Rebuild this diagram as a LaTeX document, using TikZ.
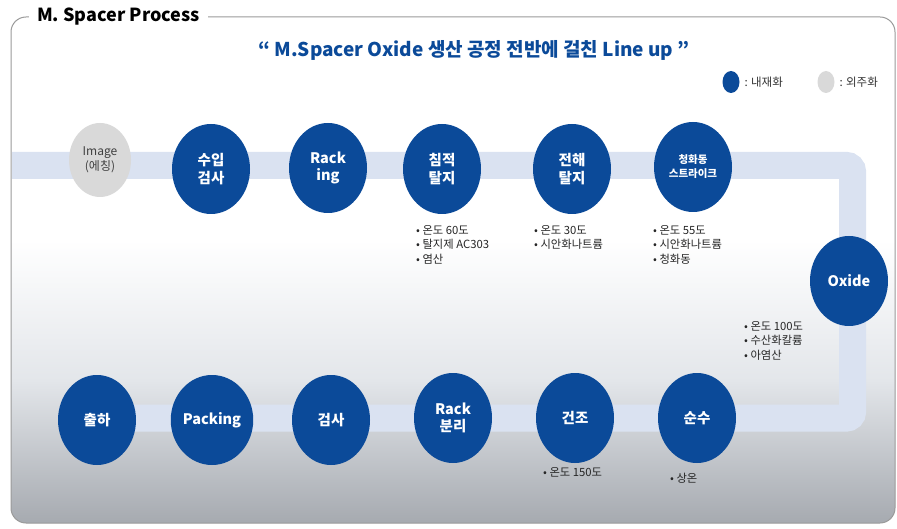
\documentclass[tikz,border=0pt]{standalone}
\usepackage{fontspec}
\setmainfont{Noto Sans CJK KR}
\usetikzlibrary{shapes}
\definecolor{procblue}{HTML}{0B4A99}
\definecolor{outgray}{HTML}{D9D9D9}
\definecolor{trackband}{HTML}{DAE2F1}
\definecolor{framegray}{HTML}{9A9A9A}
\definecolor{bgmid}{HTML}{E3E6EA}
\definecolor{bgbottom}{HTML}{A6AAB0}

\begin{document}
\begin{tikzpicture}[x=1pt, y=-1pt,
  step node/.style={ellipse, fill=procblue, text=white, minimum width=78pt, minimum height=90pt, inner sep=0pt, align=center, font=\fontsize{14.5}{17.5}\selectfont\bfseries},
  out node/.style={ellipse, fill=outgray, text=black!75, minimum width=62pt, minimum height=74pt, inner sep=0pt, align=center, font=\fontsize{12}{14.5}\selectfont},
  note/.style={anchor=north west, align=left, inner sep=0pt, font=\fontsize{11.3}{14.5}\selectfont, text=black!85},
  key text/.style={anchor=west, font=\fontsize{11.5}{13}\selectfont, text=black!80}]
\useasboundingbox (0,0) rectangle (897,529);

% background of the frame
\begin{scope}
\clip[rounded corners=15pt] (11,17) rectangle (895,523);
\shade[top color=white, bottom color=bgmid] (11,240) rectangle (895,381);
\shade[top color=bgmid, bottom color=bgbottom] (11,380) rectangle (895,523);
\end{scope}

% track
\draw[trackband, line width=27pt, rounded corners=6pt] (12,165.5) -- (852.5,165.5) -- (852.5,418) -- (97,418);

\draw[framegray, line width=1pt, rounded corners=15pt] (11,17) rectangle (895,523);
\node[anchor=west, fill=white, inner xsep=8pt, font=\fontsize{18}{20}\selectfont\bfseries] (title) at (29,17) {M. Spacer Process};
\node[font=\fontsize{19}{22}\selectfont\bfseries, text=procblue] (subtitle) at (474,50) {“ M.Spacer Oxide 생산 공정 전반에 걸친 Line up ”};

% legend
\node[ellipse, fill=procblue, minimum width=17pt, minimum height=22pt, inner sep=0pt] (inkey) at (731,82) {};
\node[key text] (inkeytxt) at (741,82) {: 내재화};
\node[ellipse, fill=outgray, minimum width=17pt, minimum height=22pt, inner sep=0pt] (outkey) at (826,82) {};
\node[key text] (outkeytxt) at (836,82) {: 외주화};

% process steps
\node[out node] (img) at (100,160) {Image\\(에칭)};
\node[step node] (insp) at (211,169) {수입\\검사};
\node[step node] (rack) at (328,168) {Rack\\ing};
\node[step node] (dip) at (442,169) {침적\\탈지};
\node[step node] (elec) at (572,169) {전해\\탈지};
\node[step node, font=\fontsize{10.5}{14}\selectfont\bfseries] (strike) at (693,167) {청화동\\스트라이크};
\node[step node] (oxide) at (849,281) {Oxide};
\node[step node] (pure) at (697,418) {순수};
\node[step node] (dry) at (575,418) {건조};
\node[step node] (unrack) at (453,418) {Rack\\분리};
\node[step node] (check) at (331,420) {검사};
\node[step node] (pack) at (212,420) {Packing};
\node[step node] (ship) at (97,420) {출하};

% conditions
\node[note] (dipnote) at (416,225) {• 온도 60도\\• 탈지제 AC303\\• 염산};
\node[note] (elecnote) at (534,225) {• 온도 30도\\• 시안화나트륨};
\node[note] (strikenote) at (653,225) {• 온도 55도\\• 시안화나트륨\\• 청화동};
\node[note] (oxidenote) at (744,321) {• 온도 100도\\• 수산화칼륨\\• 아염산};
\node[note] (drynote) at (543,467) {• 온도 150도};
\node[note] (purenote) at (670,473) {• 상온};
\end{tikzpicture}
\end{document}
